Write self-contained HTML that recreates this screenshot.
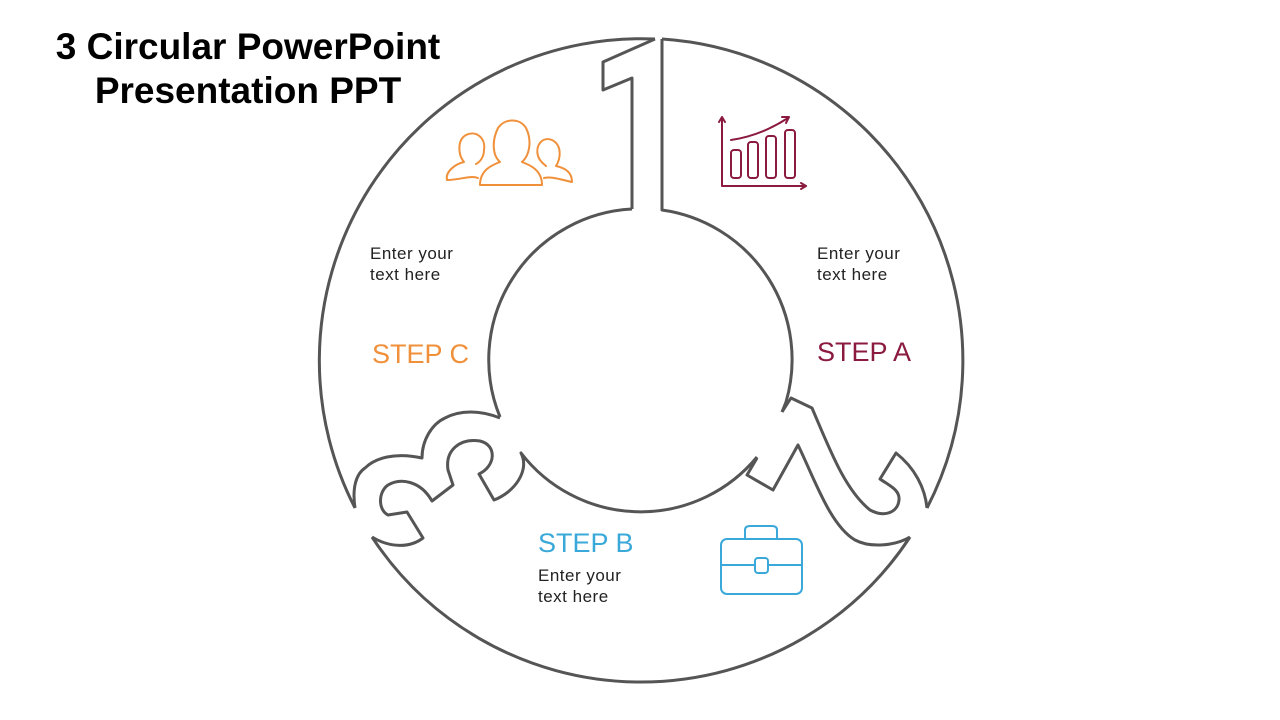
<!DOCTYPE html>
<html><head><meta charset="utf-8"><style>
body{margin:0;width:1280px;height:720px;background:#fff;overflow:hidden;position:relative;font-family:"Liberation Sans",sans-serif}
.t{position:absolute;font-weight:bold;font-size:37px;color:#000;text-align:center;line-height:44px;left:28px;width:440px;top:25px}
.e{position:absolute;font-size:17px;line-height:21px;color:#222;letter-spacing:0.5px}
.s{position:absolute;font-size:27px}
</style></head><body>
<div class="t">3 Circular PowerPoint<br>Presentation PPT</div>
<svg width="1280" height="720" style="position:absolute;left:0;top:0" fill="none" stroke="#555" stroke-width="3" stroke-linejoin="round">
<path d="M662,39 A322 322 0 0 1 927,508"/>
<path d="M910,537 A322 322 0 0 1 372,537"/>
<path d="M355,508 A322 322 0 0 1 655,39"/>
<path d="M662,39 L662,210 A151 151 0 0 1 786,402 L782,412"/>
<path d="M655,39 L603,62 L603,90 L632,78 L632,209"/>
<path d="M632,209 A151 151 0 0 0 500,417"/>
<path d="M782,412 L791,398 L812,408 C830,450 845,490 870,510 C885,518 898,512 899,500 C900,490 890,486 880,479 L896,453 C915,468 925,488 927,508"/>
<path d="M910,537 C895,546 870,548 855,540 C830,525 815,480 798,445 L773,490 L747,475 L757,458"/>
<path d="M757,457 A151 151 0 0 1 521,453 C530,470 515,492 494,500 L479,474 C496,466 497,445 480,441 C460,438 445,450 448,470 L453,485 L432,501 C420,480 400,478 388,485 C378,492 378,510 388,515 L407,512 L423,538 C410,548 390,548 372,537"/>
<path d="M355,508 C352,488 356,474 365,468 C375,458 395,452 422,458 C422,440 432,424 445,418 C460,410 480,410 500,418"/>
</svg>
<svg width="1280" height="720" style="position:absolute;left:0;top:0" fill="none" stroke-width="2" stroke-linecap="round" stroke-linejoin="round">
<g stroke="#8b1a3f">
<path d="M722,118 L722,186 L806,186"/><path d="M719,122 L722,117 L725,122"/><path d="M801,183 L806,186 L801,189"/>
<rect x="731" y="150" width="10" height="28" rx="3"/><rect x="748" y="142" width="10" height="36" rx="3"/><rect x="766" y="136" width="10" height="42" rx="3"/><rect x="785" y="130" width="10" height="48" rx="3"/>
<path d="M731,140 Q760,136 788,118"/><path d="M782,117 L789,117 L786,123"/>
</g>
<g stroke="#f0903a">
<path d="M480,185 C480,170 492,165 500,162 C492,155 492,140 498,128 C505,118 520,118 526,128 C532,140 530,155 522,162 C530,165 542,170 542,185 Z"/>
<path d="M478,178 C470,175 460,180 447,180 C445,172 455,164 464,162 C458,155 457,140 466,135 C476,130 486,138 484,150 C484,157 480,162 476,164"/>
<path d="M544,178 C552,176 562,180 572,182 C572,172 565,168 556,166 C561,158 562,145 552,140 C542,136 535,146 538,156 C540,162 544,164 546,166"/>
</g>
<g stroke="#3aa9d9">
<rect x="721" y="539" width="81" height="55" rx="6"/>
<path d="M745,539 L745,530 Q745,526 750,526 L772,526 Q777,526 777,530 L777,539"/>
<path d="M722,565 L755,565 M768,565 L801,565"/>
<rect x="755" y="558" width="13" height="15" rx="3"/>
</g>
</svg>
<div class="e" style="left:370px;top:243px">Enter your<br>text here</div>
<div class="e" style="left:817px;top:243px">Enter your<br>text here</div>
<div class="e" style="left:538px;top:565px">Enter your<br>text here</div>
<div class="s" style="left:372px;top:339px;color:#f0903a">STEP C</div>
<div class="s" style="left:817px;top:337px;color:#8b1a3f">STEP A</div>
<div class="s" style="left:538px;top:528px;color:#3aa9d9">STEP B</div>
</body></html>
